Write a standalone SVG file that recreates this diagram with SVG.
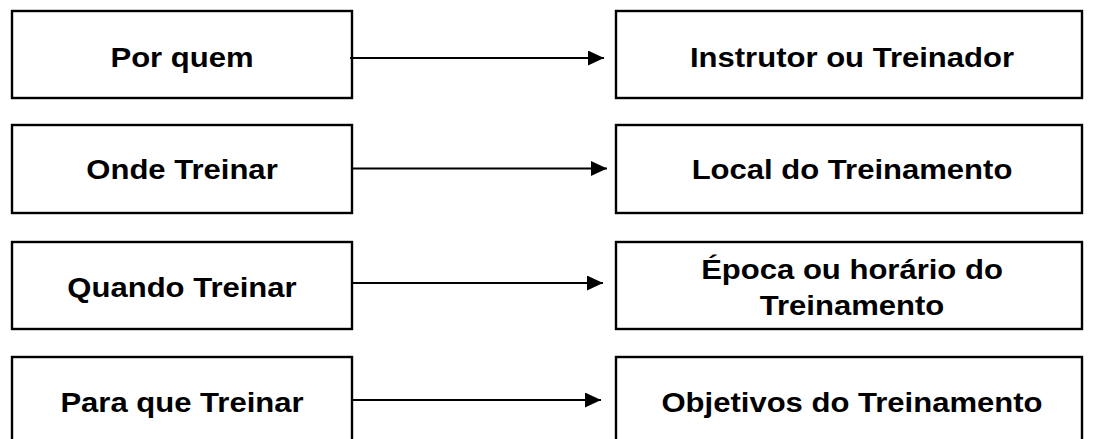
<svg xmlns="http://www.w3.org/2000/svg" width="1099" height="439" viewBox="0 0 1099 439">
<defs>
<style>
.box{fill:#fff;stroke:#000;stroke-width:2.4}
.lbl{font-family:"Liberation Sans",Arial,sans-serif;font-weight:bold;font-size:27px;fill:#000;text-anchor:middle}
.conn{stroke:#000;stroke-width:2;fill:none}
</style>
<marker id="arr" markerUnits="userSpaceOnUse" markerWidth="17" markerHeight="16" refX="16" refY="7.5" orient="auto">
<path d="M0,0 L16,7.5 L0,15 z" fill="#000"/>
</marker>
</defs>
<rect width="1099" height="439" fill="#fff"/>
<g id="n-porquem"><rect class="box" x="12" y="11" width="340" height="87"/><text class="lbl" transform="translate(182,66.5) scale(1.15,1)">Por quem</text></g>
<g id="n-instrutor"><rect class="box" x="616" y="11" width="466" height="87"/><text class="lbl" transform="translate(852,66.5) scale(1.15,1)">Instrutor ou Treinador</text></g>
<g id="n-onde"><rect class="box" x="12" y="125" width="340" height="88"/><text class="lbl" transform="translate(182,178.5) scale(1.15,1)">Onde Treinar</text></g>
<g id="n-local"><rect class="box" x="616" y="125" width="466" height="88"/><text class="lbl" transform="translate(852,178.5) scale(1.15,1)">Local do Treinamento</text></g>
<g id="n-quando"><rect class="box" x="12" y="242" width="340" height="87"/><text class="lbl" transform="translate(182,296.5) scale(1.15,1)">Quando Treinar</text></g>
<g id="n-epoca"><rect class="box" x="616" y="242" width="466" height="87"/><text class="lbl" transform="translate(852,279) scale(1.15,1)">Época ou horário do</text><text class="lbl" transform="translate(852,315) scale(1.15,1)">Treinamento</text></g>
<g id="n-para"><rect class="box" x="12" y="357" width="340" height="87"/><text class="lbl" transform="translate(182,411.5) scale(1.15,1)">Para que Treinar</text></g>
<g id="n-objetivos"><rect class="box" x="616" y="357" width="466" height="87"/><text class="lbl" transform="translate(852,411.5) scale(1.15,1)">Objetivos do Treinamento</text></g>
<g id="connectors">
<line class="conn" x1="350" y1="58" x2="604" y2="58" marker-end="url(#arr)"/>
<line class="conn" x1="352" y1="168.5" x2="607" y2="168.5" marker-end="url(#arr)"/>
<line class="conn" x1="353" y1="283" x2="603" y2="283" marker-end="url(#arr)"/>
<line class="conn" x1="352" y1="400" x2="601" y2="400" marker-end="url(#arr)"/>
</g>
</svg>
